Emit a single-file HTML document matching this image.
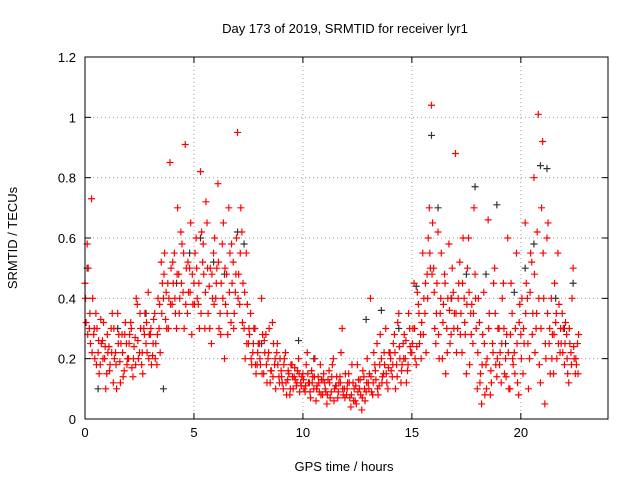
<!DOCTYPE html>
<html><head><meta charset="utf-8"><style>
body{margin:0;background:#fff}
svg{display:block;font-family:"Liberation Sans",sans-serif}
</style></head><body>
<svg id="chart" width="640" height="480">
<text x="345" y="33" text-anchor="middle" font-size="13">Day 173 of 2019, SRMTID for receiver lyr1</text>
<text x="344" y="471" text-anchor="middle" font-size="13">GPS time / hours</text>
<text transform="translate(17,238) rotate(-90)" text-anchor="middle" font-size="13">SRMTID / TECUs</text>
<g id="grid"></g><g id="ticks"></g><g id="blk"></g><g id="red"></g>
<rect x="85" y="57" width="523" height="362" fill="none" stroke="#000"/>
</svg>
<script>
const xTicks=[0,5,10,15,20];
const yTicks=[0,0.2,0.4,0.6,0.8,1,1.2];
const yTickLabels=["0","0.2","0.4","0.6","0.8","1","1.2"];
const tStep=0.1;
const redA=[0.45,0.58,0.30,0.73,0.28,0.35,0.22,0.18,0.26,0.20,
0.15,0.24,0.30,0.12,0.22,0.35,0.19,0.28,0.16,0.25,
0.20,0.32,0.14,0.27,0.38,0.22,0.18,0.30,0.25,0.42,
0.28,0.21,0.35,0.18,0.30,0.52,0.40,0.33,0.45,0.85,
0.38,0.55,0.30,0.48,0.62,0.42,0.91,0.35,0.50,0.28,
0.45,0.60,0.38,0.82,0.52,0.30,0.65,0.44,0.25,0.55,
0.40,0.78,0.35,0.58,0.20,0.48,0.70,0.32,0.52,0.42,
0.95,0.38,0.62,0.30,0.55,0.25,0.35,0.22,0.30,0.18,
0.25,0.40,0.15,0.28,0.20,0.12,0.32,0.18,0.22,0.14,
0.16,0.10,0.22,0.13,0.08,0.18,0.14,0.11,0.20,0.12,
0.15,0.09,0.22,0.12,0.16,0.10,0.06,0.14,0.18,0.08,
0.12,0.05,0.16,0.09,0.20,0.11,0.07,0.14,0.30,0.10,
0.08,0.15,0.04,0.12,0.06,0.18,0.10,0.03,0.14,0.09,
0.12,0.40,0.08,0.18,0.25,0.11,0.20,0.15,0.30,0.10,
0.22,0.14,0.28,0.18,0.35,0.12,0.25,0.20,0.16,0.30,
0.22,0.45,0.18,0.38,0.28,0.55,0.35,0.48,0.70,1.04,
0.50,0.25,0.62,0.35,0.20,0.48,0.30,0.58,0.28,0.42,
0.88,0.30,0.52,0.22,0.40,0.15,0.60,0.35,0.25,0.48,
0.10,0.32,0.05,0.42,0.18,0.66,0.08,0.25,0.50,0.14,
0.30,0.12,0.45,0.20,0.60,0.10,0.35,0.22,0.55,0.08,
0.28,0.15,0.65,0.40,0.20,0.52,0.80,0.30,1.01,0.12,
0.92,0.05,0.60,0.25,0.40,0.15,0.32,0.55,0.22,0.35,
0.18,0.28,0.12,0.22,0.50,0.15,0.25];
const redB=[0.32,0.50,0.25,0.40,0.20,0.30,0.15,0.25,0.32,0.10,
0.22,0.18,0.35,0.20,0.10,0.28,0.25,0.14,0.32,0.20,
0.28,0.17,0.24,0.40,0.20,0.30,0.15,0.35,0.22,0.28,
0.18,0.33,0.25,0.40,0.22,0.45,0.55,0.30,0.40,0.50,
0.45,0.35,0.70,0.40,0.58,0.30,0.50,0.42,0.65,0.38,
0.55,0.40,0.30,0.62,0.48,0.72,0.35,0.50,0.40,0.60,
0.50,0.30,0.45,0.65,0.38,0.28,0.55,0.45,0.35,0.60,
0.48,0.70,0.45,0.20,0.38,0.28,0.18,0.30,0.15,0.25,
0.18,0.28,0.22,0.12,0.30,0.16,0.25,0.10,0.18,0.20,
0.12,0.20,0.08,0.15,0.18,0.10,0.13,0.16,0.09,0.14,
0.10,0.18,0.12,0.07,0.14,0.20,0.11,0.09,0.13,0.15,
0.09,0.13,0.07,0.18,0.10,0.14,0.12,0.22,0.08,0.15,
0.12,0.07,0.18,0.10,0.05,0.13,0.08,0.16,0.06,0.20,
0.15,0.09,0.22,0.13,0.08,0.28,0.14,0.18,0.12,0.22,
0.16,0.25,0.10,0.32,0.20,0.18,0.28,0.12,0.35,0.22,
0.30,0.20,0.42,0.25,0.32,0.40,0.22,0.60,0.50,0.65,
0.30,0.45,0.20,0.55,0.38,0.15,0.40,0.25,0.50,0.35,
0.22,0.45,0.35,0.60,0.28,0.50,0.18,0.38,0.70,0.30,
0.40,0.15,0.28,0.08,0.20,0.35,0.12,0.45,0.18,0.30,
0.22,0.40,0.15,0.28,0.10,0.45,0.18,0.30,0.12,0.38,
0.40,0.25,0.45,0.10,0.55,0.35,0.22,0.62,0.18,0.70,
0.40,0.20,0.65,0.15,0.28,0.45,0.20,0.38,0.25,0.30,
0.32,0.15,0.25,0.40,0.20,0.18,0.28];
const redC=[0.40,0.28,0.35,0.22,0.30,0.18,0.26,0.33,0.20,0.24,
0.28,0.16,0.22,0.30,0.18,0.25,0.12,0.22,0.28,0.18,
0.25,0.30,0.20,0.18,0.26,0.35,0.22,0.28,0.32,0.20,
0.30,0.25,0.20,0.28,0.38,0.35,0.48,0.42,0.30,0.38,
0.52,0.40,0.48,0.35,0.45,0.55,0.38,0.52,0.42,0.48,
0.38,0.50,0.45,0.35,0.58,0.42,0.50,0.30,0.48,0.38,
0.45,0.52,0.28,0.40,0.50,0.35,0.42,0.58,0.30,0.48,
0.40,0.55,0.32,0.42,0.25,0.30,0.20,0.25,0.18,0.22,
0.20,0.15,0.26,0.18,0.22,0.16,0.14,0.20,0.25,0.12,
0.14,0.18,0.12,0.16,0.10,0.14,0.17,0.12,0.15,0.11,
0.13,0.11,0.15,0.09,0.12,0.14,0.10,0.12,0.08,0.13,
0.10,0.08,0.12,0.14,0.06,0.11,0.09,0.12,0.10,0.07,
0.10,0.12,0.08,0.06,0.11,0.09,0.13,0.07,0.10,0.12,
0.10,0.14,0.12,0.16,0.10,0.18,0.12,0.22,0.15,0.17,
0.20,0.18,0.22,0.14,0.24,0.16,0.20,0.26,0.18,0.24,
0.25,0.30,0.24,0.35,0.20,0.28,0.45,0.40,0.55,0.48,
0.42,0.35,0.28,0.40,0.32,0.45,0.22,0.36,0.40,0.30,
0.35,0.40,0.28,0.45,0.32,0.38,0.42,0.28,0.35,0.40,
0.22,0.12,0.18,0.25,0.10,0.30,0.16,0.22,0.35,0.20,
0.18,0.25,0.30,0.14,0.22,0.28,0.20,0.15,0.25,0.32,
0.20,0.30,0.35,0.25,0.42,0.28,0.48,0.35,0.40,0.30,
0.55,0.25,0.35,0.30,0.20,0.28,0.35,0.25,0.30,0.22,
0.25,0.20,0.30,0.18,0.24,0.20,0.15];
const blackT=[0.1,0.6,1.5,2.8,3.6,4.2,4.8,5.3,5.9,6.4,7.0,7.3,8.1,9.8,10.5,12.9,13.6,14.4,15.2,15.9,16.2,16.8,17.5,17.9,18.4,18.9,19.3,19.7,20.2,20.6,20.9,21.2,21.6,22.0,22.4];
const blackV=[0.50,0.10,0.30,0.35,0.10,0.45,0.55,0.60,0.52,0.48,0.62,0.58,0.25,0.26,0.20,0.33,0.36,0.30,0.44,0.94,0.70,0.40,0.48,0.77,0.48,0.71,0.25,0.42,0.50,0.58,0.84,0.83,0.40,0.30,0.45];
const NS="http://www.w3.org/2000/svg";
const X0=85,X1=608,Y0=419,Y1=57,XMAX=24,YMAX=1.2;
function xs(t){return X0+t/XMAX*(X1-X0);}
function ys(v){return Y0-v/YMAX*(Y0-Y1);}
function mk(tag,attrs,parent){const e=document.createElementNS(NS,tag);for(const k in attrs)e.setAttribute(k,attrs[k]);parent.appendChild(e);return e;}
const grid=document.getElementById('grid'),ticks=document.getElementById('ticks');
xTicks.forEach(t=>{const x=xs(t);
 if(t>0){const g=mk('line',{x1:x,x2:x,y1:Y0,y2:Y1,stroke:'#a0a0a0','stroke-dasharray':'1,3'},grid);
 
 }
 mk('line',{x1:x,x2:x,y1:Y0,y2:Y0-6,stroke:'#000'},ticks);
 mk('line',{x1:x,x2:x,y1:Y1,y2:Y1+6,stroke:'#000'},ticks);
 const l=mk('text',{x:x,y:Y0+18,'text-anchor':'middle','font-size':13},ticks);l.textContent=t;
 
 });
yTicks.forEach((v,i)=>{const y=ys(v);
 if(v>0&&v<YMAX){const g=mk('line',{x1:X0,x2:X1,y1:y,y2:y,stroke:'#a0a0a0','stroke-dasharray':'1,3'},grid);
 
 }
 mk('line',{x1:X0,x2:X0+6,y1:y,y2:y,stroke:'#000'},ticks);
 mk('line',{x1:X1,x2:X1-6,y1:y,y2:y,stroke:'#000'},ticks);
 const l=mk('text',{x:X0-9,y:y+5,'text-anchor':'end','font-size':13},ticks);l.textContent=yTickLabels[i];
 
 });
function plus(parent,t,v,col,name){const x=xs(t),y=ys(v);
 const p=mk('path',{d:`M${x-3.5} ${y}h7M${x} ${y-3.5}v7`,stroke:col,'stroke-width':1.2,fill:'none'},parent);
 
 }
const blk=document.getElementById('blk'),red=document.getElementById('red');
blackT.forEach((t,i)=>plus(blk,t,blackV[i],'#333','black-point'));
redA.forEach((v,i)=>plus(red,i*tStep,v,'#f00','red-point'));
redB.forEach((v,i)=>plus(red,i*tStep+0.05,v,'#f00','red-point'));
redC.forEach((v,i)=>plus(red,i*tStep+0.025,v,'#f00','red-point'));
</script>
</body></html>
